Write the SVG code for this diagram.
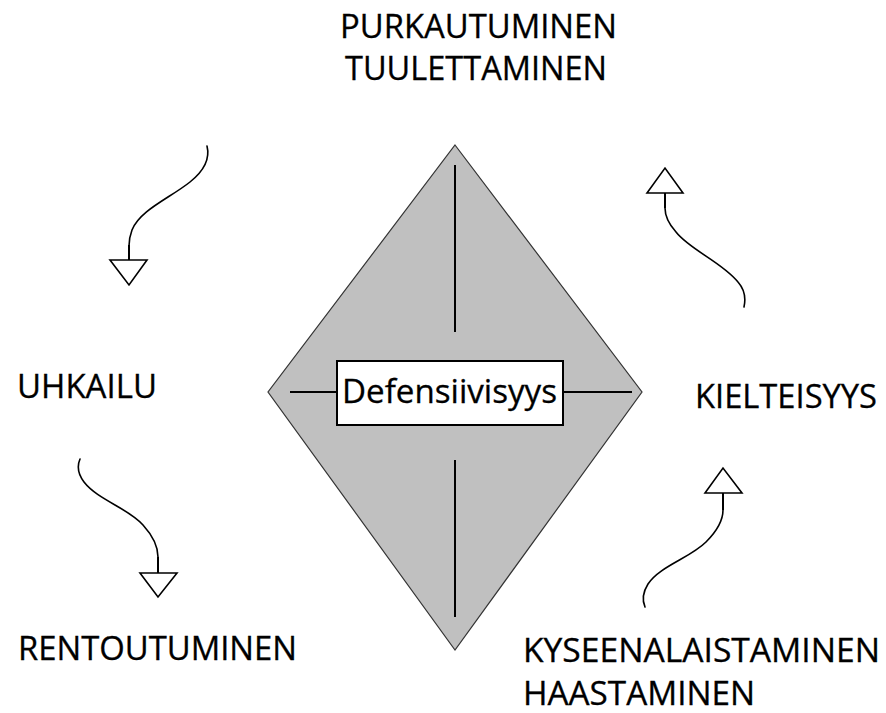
<svg xmlns="http://www.w3.org/2000/svg" width="886" height="713" viewBox="0 0 886 713">
<style>
.lbl{font-family:"Open Sans","Liberation Sans",sans-serif;font-size:32px;fill:#000;stroke:#000;stroke-width:0.3;}
.axis{stroke:#000;stroke-width:2;fill:none;}
.curve{stroke:#000;stroke-width:1.6;fill:none;stroke-linecap:round;}
.stem{stroke:#000;stroke-width:2;fill:none;}
.head{fill:#fff;stroke:#000;stroke-width:1.6;stroke-linejoin:miter;}
</style>
<rect width="886" height="713" fill="#fff"/>
<g id="diamond">
<polygon points="455,145 642,392 455,650 268,392" fill="#c0c0c0" stroke="#333" stroke-width="1.2"/>
<line class="axis" x1="455" y1="165" x2="455" y2="332"/>
<line class="axis" x1="455" y1="460" x2="455" y2="617"/>
<line class="axis" x1="290" y1="392" x2="337" y2="392"/>
<line class="axis" x1="563" y1="392" x2="632" y2="392"/>
</g>
<g id="center">
<rect x="337" y="361" width="226" height="64" fill="#fff" stroke="#000" stroke-width="2"/>
<text class="lbl" x="342" y="403" textLength="215" lengthAdjust="spacingAndGlyphs">Defensiivisyys</text>
</g>
<g id="connectors">
<g id="arrow-top-left">
<path class="curve" d="M207,146 C210,158 205,170 190,182 C170,198 140,210 132,230 C129,238 129,242 129,246"/>
<line class="stem" x1="129" y1="245" x2="129" y2="260"/>
<polygon class="head" points="110,260 147,260 129,285"/>
</g>
<g id="arrow-top-right">
<path class="curve" d="M744,307 C746,298 745,290 738,282 C722,262 690,250 676,232 C667,222 665,214 665,208"/>
<line class="stem" x1="665" y1="208" x2="665" y2="193"/>
<polygon class="head" points="647,193 683,193 665,168"/>
</g>
<g id="arrow-bottom-left">
<path class="curve" d="M80,459 C77,466 78,474 84,482 C98,500 128,508 143,525 C153,536 158,548 158,557"/>
<line class="stem" x1="158" y1="557" x2="158" y2="573"/>
<polygon class="head" points="140,573 177,573 158,597"/>
</g>
<g id="arrow-bottom-right">
<path class="curve" d="M645,607 C642,600 643,592 648,584 C660,566 690,558 706,542 C718,530 723,520 723,510"/>
<line class="stem" x1="723" y1="510" x2="723" y2="493"/>
<polygon class="head" points="705,493 742,493 723,468"/>
</g>
</g>
<g id="label-top">
<text class="lbl" x="340" y="38" textLength="277" lengthAdjust="spacingAndGlyphs">PURKAUTUMINEN</text>
<text class="lbl" x="345" y="80" textLength="262" lengthAdjust="spacingAndGlyphs">TUULETTAMINEN</text>
</g>
<g id="label-left">
<text class="lbl" x="17" y="398" textLength="140" lengthAdjust="spacingAndGlyphs">UHKAILU</text>
</g>
<g id="label-bottom-left">
<text class="lbl" x="18" y="660" textLength="279" lengthAdjust="spacingAndGlyphs">RENTOUTUMINEN</text>
</g>
<g id="label-right">
<text class="lbl" x="695" y="408" textLength="182" lengthAdjust="spacingAndGlyphs">KIELTEISYYS</text>
</g>
<g id="label-bottom-right">
<text class="lbl" x="523" y="662" textLength="357" lengthAdjust="spacingAndGlyphs">KYSEENALAISTAMINEN</text>
<text class="lbl" x="523" y="705" textLength="232" lengthAdjust="spacingAndGlyphs">HAASTAMINEN</text>
</g>
</svg>
